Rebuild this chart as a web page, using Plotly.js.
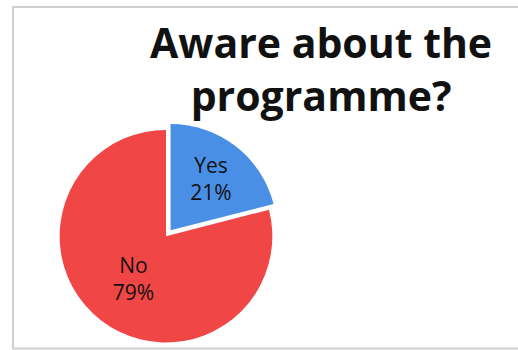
<!DOCTYPE html>
<html>
<head>
<meta charset="utf-8">
<script src="https://cdn.plot.ly/plotly-3.0.1.min.js"></script>
<style>
html,body{margin:0;padding:0;background:#fff;}
#chart{width:518px;height:350px;}
</style>
</head>
<body>
<div id="chart"></div>
<script>
const categories = ["Yes", "No"];
const values = [21, 79];
const sliceColors = ["#4a8fe6", "#f04646"];
const pulls = [0.07, 0];
const titleText = "Aware about the<br>programme?";

const W = 518, H = 350;
const cx = 166, cy = 238, r = 108;
const half = r * (1 + 0.07);

const trace = {
  type: "pie",
  labels: categories,
  values: values,
  sort: false,
  direction: "clockwise",
  rotation: 0,
  pull: pulls,
  marker: { colors: sliceColors, line: { color: "#ffffff", width: 0 } },
  textinfo: "label+percent",
  texttemplate: "%{label}<br>%{percent:.0%}",
  textposition: "inside",
  insidetextorientation: "horizontal",
  textfont: { family: "Open Sans, sans-serif", size: 21, color: "#111111" },
  hoverinfo: "none",
  showlegend: false,
  domain: {
    x: [(cx - half) / W, (cx + half) / W],
    y: [(H - cy - half) / H, (H - cy + half) / H]
  }
};

const layout = {
  width: W,
  height: H,
  margin: { l: 0, r: 0, t: 0, b: 0 },
  paper_bgcolor: "#ffffff",
  showlegend: false,
  annotations: [{
    text: titleText,
    xref: "paper", yref: "paper",
    x: 321 / W, xanchor: "center",
    y: 1 - 12 / H, yanchor: "top",
    showarrow: false,
    align: "center",
    font: { family: "Open Sans, sans-serif", size: 41, color: "#111111", weight: "bold" }
  }],
  shapes: [{
    type: "rect",
    xref: "paper", yref: "paper",
    x0: 13 / W, x1: 1.02,
    y0: 1.5 / H, y1: 1 - 7 / H,
    line: { color: "#cfcfcf", width: 2 },
    fillcolor: "rgba(0,0,0,0)"
  }]
};

Plotly.newPlot("chart", [trace], layout, { displayModeBar: false, staticPlot: true });
</script>
</body>
</html>
